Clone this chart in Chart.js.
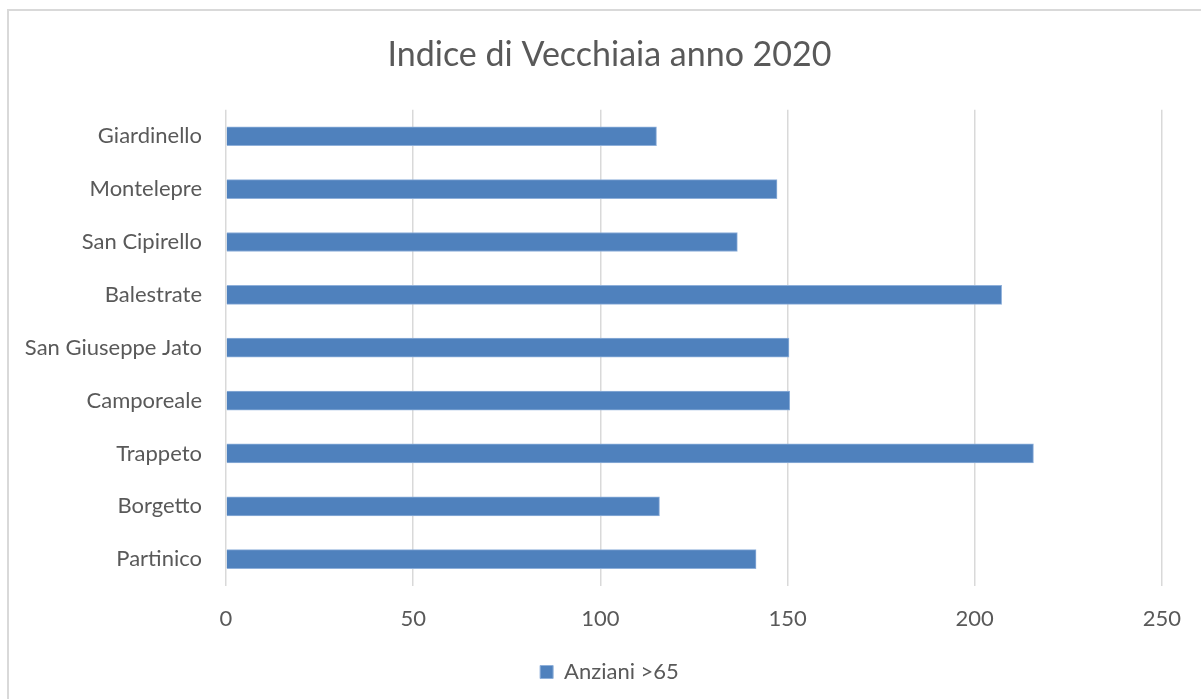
<!DOCTYPE html>
<html>
<head>
<meta charset="utf-8">
<script src="https://cdn.jsdelivr.net/npm/chart.js@4"></script>
<style>
  html, body { margin: 0; padding: 0; background: #fff; overflow: hidden; }
  #frame { position: absolute; left: 7px; top: 9px; width: 1400px; height: 900px;
           border-left: 2px solid #d9d9d9; border-top: 2px solid #d9d9d9; }
  #wrap { position: absolute; left: 0; top: 0; width: 1201px; height: 699px; }
</style>
</head>
<body>
<div id="frame"></div>
<div id="wrap"><canvas id="chart"></canvas></div>
<script>
// Comuni (ordine Excel: dal basso verso l'alto)
const comuni = ['Partinico', 'Borgetto', 'Trappeto', 'Camporeale', 'San Giuseppe Jato',
                'Balestrate', 'San Cipirello', 'Montelepre', 'Giardinello'];
const anziani = [141.6, 115.8, 215.7, 150.6, 150.4, 207.2, 136.6, 147.2, 115.0];
const xTicks = [0, 50, 100, 150, 200, 250];

const testo = '#595959';
const font = 'Lato, "Open Sans", sans-serif';

new Chart(document.getElementById('chart'), {
    type: 'bar',
    data: {
        labels: comuni,
        datasets: [{
            label: 'Anziani >65',
            data: anziani,
            backgroundColor: '#4f81bd',
            borderColor: '#8fb0da',
            borderWidth: 1,
            barThickness: 19
        }]
    },
    options: {
        indexAxis: 'y',
        responsive: true,
        maintainAspectRatio: false,
        animation: false,
        // padding sinistro per centrare titolo e legenda come nell'originale
        layout: { padding: { left: 54, right: 36, top: 0, bottom: 6 } },
        plugins: {
            title: {
                display: true,
                text: 'Indice di Vecchiaia anno 2020',
                color: testo,
                font: { family: font, size: 34, weight: 'normal' },
                padding: { top: 35, bottom: 34 }
            },
            legend: {
                position: 'bottom',
                labels: {
                    color: testo,
                    font: { family: font, size: 22 },
                    boxWidth: 13,
                    boxHeight: 13,
                    padding: 9
                }
            },
            tooltip: { enabled: false }
        },
        scales: {
            x: {
                min: 0,
                max: 250,
                afterBuildTicks: (scale) => { scale.ticks = xTicks.map(v => ({ value: v })); },
                ticks: { color: testo, font: { family: font, size: 22 }, padding: 20 },
                grid: { color: '#d9d9d9', lineWidth: 1.5, drawTicks: false },
                border: { display: false }
            },
            y: {
                reverse: true,
                afterFit: (scale) => {
                    scale.width = 172;
                    // le etichette lunghe escono a sinistra: niente ritaglio
                    scale._computeLabelArea = () => undefined;
                },
                ticks: { color: testo, font: { family: font, size: 22 }, padding: 24 },
                grid: { display: false, drawTicks: false },
                border: { display: false }
            }
        }
    }
});
</script>
</body>
</html>
